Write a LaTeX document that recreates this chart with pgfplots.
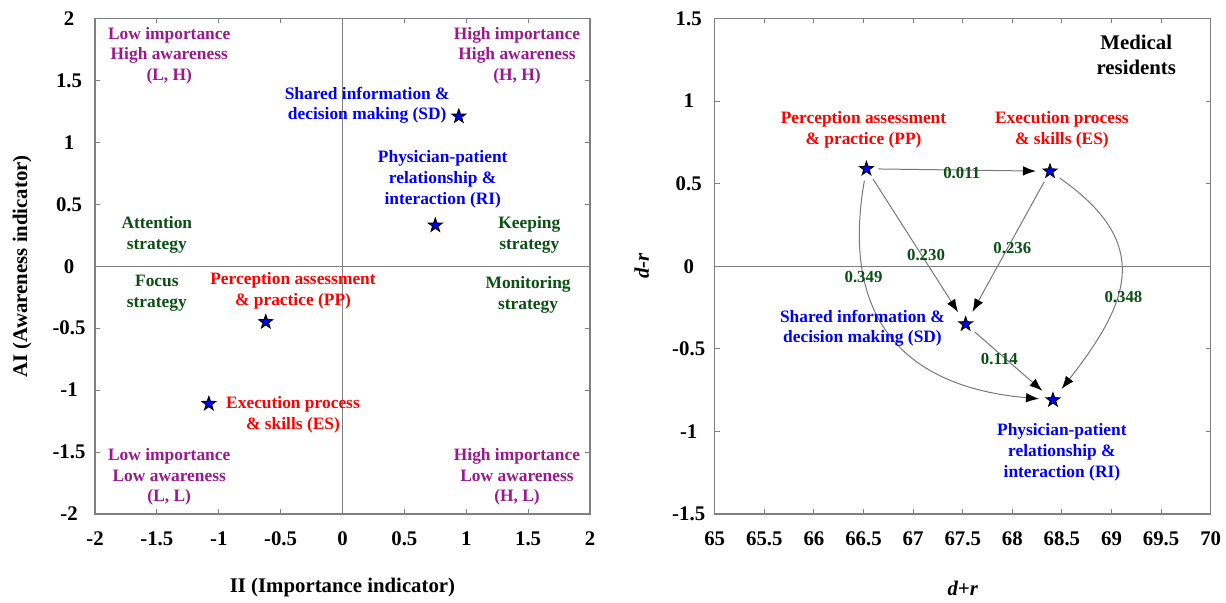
\documentclass[border=0pt]{standalone}
\usepackage{fontspec}
\setmainfont{Liberation Serif}
\usepackage{pgfplots}
\pgfplotsset{compat=1.18}
\usetikzlibrary{arrows.meta}
\definecolor{purp}{RGB}{155,25,140}
\definecolor{dgreen}{RGB}{10,80,20}
\definecolor{framegray}{RGB}{128,128,128}
\definecolor{arrgray}{RGB}{120,120,120}
\pgfdeclareplotmark{fstar}{%
  \pgfpathmoveto{\pgfpointpolar{90}{\pgfplotmarksize}}%
  \pgfpathlineto{\pgfpointpolar{126}{0.40\pgfplotmarksize}}%
  \pgfpathlineto{\pgfpointpolar{162}{\pgfplotmarksize}}%
  \pgfpathlineto{\pgfpointpolar{198}{0.40\pgfplotmarksize}}%
  \pgfpathlineto{\pgfpointpolar{234}{\pgfplotmarksize}}%
  \pgfpathlineto{\pgfpointpolar{270}{0.40\pgfplotmarksize}}%
  \pgfpathlineto{\pgfpointpolar{306}{\pgfplotmarksize}}%
  \pgfpathlineto{\pgfpointpolar{342}{0.40\pgfplotmarksize}}%
  \pgfpathlineto{\pgfpointpolar{18}{\pgfplotmarksize}}%
  \pgfpathlineto{\pgfpointpolar{54}{0.40\pgfplotmarksize}}%
  \pgfpathclose
  \pgfusepathqfillstroke}
\pgfplotsset{
  mystyle/.style={
    scale only axis, clip=false,
    axis line style={framegray, line width=0.6pt},
    tick style={framegray, line width=0.5pt},
    major tick length=2.5pt,
    tick align=inside,
    /pgf/number format/assume math mode=true,
    ticklabel style={font=\fontsize{10.4}{12}\selectfont\bfseries},
    xticklabel style={anchor=center, yshift=-12.5pt},
    yticklabel style={anchor=center, xshift=-13pt},
    every axis x label/.style={at={(axis description cs:0.5,0)}, anchor=center, yshift=-37pt, font=\fontsize{10.4}{12}\selectfont\bfseries},
    every axis y label/.style={at={(axis description cs:0,0.5)}, xshift=-36.5pt, rotate=90, anchor=center, font=\fontsize{10.4}{12}\selectfont\bfseries},
  },
}
\tikzset{
  lab/.style={font=\fontsize{8.7}{10.4}\selectfont\bfseries, align=center, inner sep=0pt},
  num/.style={font=\fontsize{8.4}{10}\selectfont\bfseries, text=dgreen, inner sep=0pt},
  arr/.style={arrgray, line width=0.5pt, -{Latex[black,length=6.5pt,width=4.8pt]}, shorten <=6pt, shorten >=7pt},
}
\begin{document}
\begin{tikzpicture}
\useasboundingbox (0,0) rectangle (613pt,301.5pt);
% ---------------- Left chart ----------------
\begin{axis}[mystyle,
  at={(47.5pt,44.5pt)}, anchor=south west,
  width=247.5pt, height=247.75pt,
  xmin=-2, xmax=2, ymin=-2, ymax=2,
  xtick={-2,-1.5,-1,-0.5,0,0.5,1,1.5,2},
  ytick={-2,-1.5,-1,-0.5,0,0.5,1,1.5,2},
  xlabel={II (Importance indicator)},
  ylabel={AI (Awareness indicator)},
]
\draw[framegray, line width=0.5pt] (axis cs:0,-2) -- (axis cs:0,2);
\draw[framegray, line width=0.5pt] (axis cs:-2,0) -- (axis cs:2,0);
\addplot[only marks, mark=fstar, mark size=3.6pt, mark options={fill=blue, draw=black, line width=0.5pt}]
  coordinates {(0.94,1.21) (0.75,0.33) (-0.62,-0.45) (-1.08,-1.11)};
\node[lab, text=purp] at (axis cs:-1.40,1.70) {Low importance\\High awareness\\(L, H)};
\node[lab, text=purp] at (axis cs:1.41,1.70) {High importance\\High awareness\\(H, H)};
\node[lab, text=purp] at (axis cs:-1.40,-1.70) {Low importance\\Low awareness\\(L, L)};
\node[lab, text=purp] at (axis cs:1.41,-1.70) {High importance\\Low awareness\\(H, L)};
\node[lab, text=dgreen] at (axis cs:-1.50,0.25) {Attention\\strategy};
\node[lab, text=dgreen] at (axis cs:1.51,0.25) {Keeping\\strategy};
\node[lab, text=dgreen] at (axis cs:-1.50,-0.22) {Focus\\strategy};
\node[lab, text=dgreen] at (axis cs:1.50,-0.23) {Monitoring\\strategy};
\node[lab, text=blue] at (axis cs:0.20,1.30) {Shared information \&\\decision making (SD)};
\node[lab, text=blue] at (axis cs:0.81,0.70) {Physician-patient\\relationship \&\\interaction (RI)};
\node[lab, text=red] at (axis cs:-0.40,-0.20) {Perception assessment\\\& practice (PP)};
\node[lab, text=red] at (axis cs:-0.40,-1.20) {Execution process\\\& skills (ES)};
\end{axis}
% ---------------- Right chart ----------------
\begin{axis}[mystyle,
  at={(357.35pt,44.5pt)}, anchor=south west,
  width=248pt, height=247.75pt,
  xmin=65, xmax=70, ymin=-1.5, ymax=1.5,
  xtick={65,65.5,66,66.5,67,67.5,68,68.5,69,69.5,70},
  ytick={-1.5,-1,-0.5,0,0.5,1,1.5},
  xlabel={\itshape d+r},
  ylabel={\itshape d-r},
]
\draw[framegray, line width=0.5pt] (axis cs:65,0) -- (axis cs:70,0);
\draw[arr] (axis cs:66.53,0.59) -- (axis cs:68.38,0.575);
\draw[arr] (axis cs:66.53,0.59) -- (axis cs:67.53,-0.35);
\draw[arr] (axis cs:68.38,0.575) -- (axis cs:67.53,-0.35);
\draw[arr] (axis cs:67.53,-0.35) -- (axis cs:68.41,-0.81);
\draw[arr] (axis cs:66.53,0.59) to[out=-100,in=175,looseness=1.3] (axis cs:68.41,-0.81);
\draw[arr] (axis cs:68.38,0.575) to[out=-35,in=52,looseness=1.4] (axis cs:68.41,-0.81);
\addplot[only marks, mark=fstar, mark size=3.6pt, mark options={fill=blue, draw=black, line width=0.5pt}]
  coordinates {(66.53,0.59) (68.38,0.575) (67.53,-0.35) (68.41,-0.81)};
\node[num] at (axis cs:67.49,0.563) {0.011};
\node[num] at (axis cs:67.13,0.068) {0.230};
\node[num] at (axis cs:68.00,0.112) {0.236};
\node[num] at (axis cs:66.50,-0.063) {0.349};
\node[num] at (axis cs:69.12,-0.188) {0.348};
\node[num] at (axis cs:67.87,-0.562) {0.114};
\node[font=\fontsize{10.4}{12.5}\selectfont\bfseries, align=center, inner sep=0pt] at (axis cs:69.25,1.28) {Medical\\residents};
\node[lab, text=red] at (axis cs:66.50,0.825) {Perception assessment\\\& practice (PP)};
\node[lab, text=red] at (axis cs:68.50,0.825) {Execution process\\\& skills (ES)};
\node[lab, text=blue] at (axis cs:66.49,-0.376) {Shared information \&\\decision making (SD)};
\node[lab, text=blue] at (axis cs:68.50,-1.126) {Physician-patient\\relationship \&\\interaction (RI)};
\end{axis}
\end{tikzpicture}
\end{document}
